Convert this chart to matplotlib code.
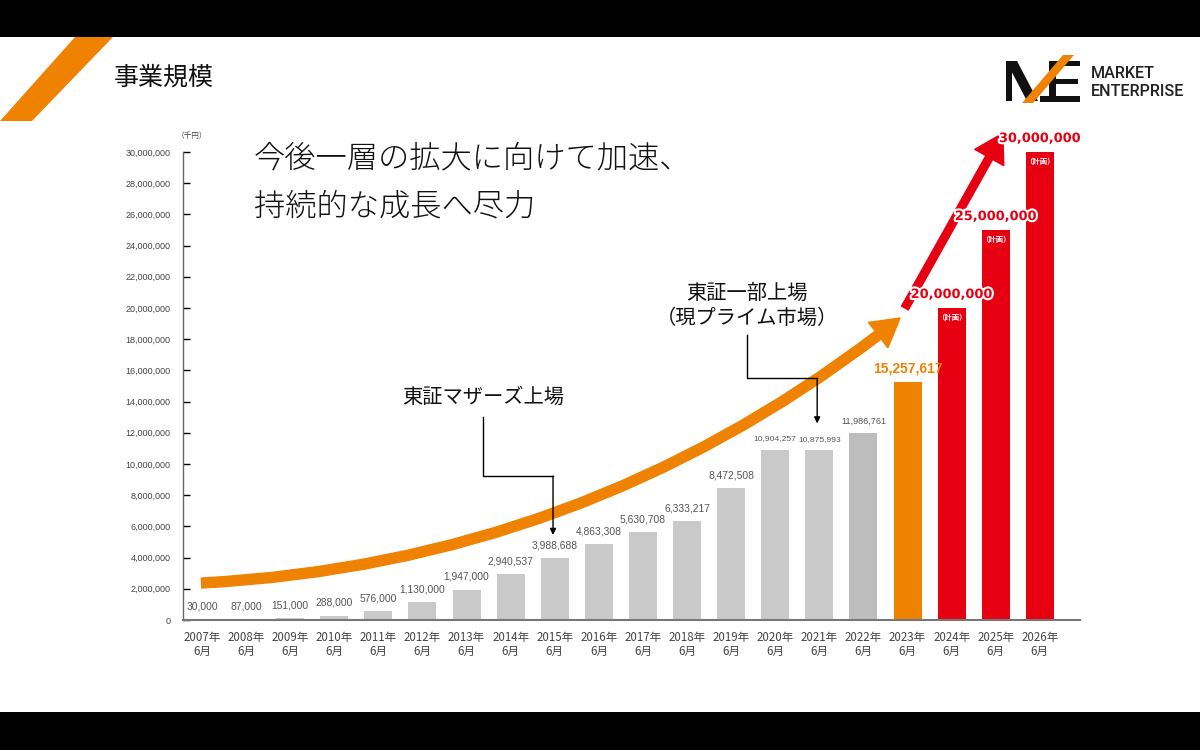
import matplotlib
matplotlib.use("Agg")
import matplotlib.pyplot as plt
import matplotlib.patheffects as pe
from matplotlib.patches import FancyArrowPatch, Polygon, Rectangle

plt.rcParams["font.family"] = ["Noto Sans CJK JP", "DejaVu Sans"]

# data (千円)
years = ["2007", "2008", "2009", "2010", "2011", "2012", "2013", "2014", "2015", "2016",
         "2017", "2018", "2019", "2020", "2021", "2022", "2023", "2024", "2025", "2026"]
sales = [30000, 87000, 151000, 288000, 576000, 1130000, 1947000, 2940537, 3988688, 4863308,
         5630708, 6333217, 8472508, 10904257, 10875993, 11986761, 15257617, 20000000, 25000000, 30000000]
kinds = ["actual"] * 15 + ["actual_last", "latest", "plan", "plan", "plan"]
tick_labels = [f"{y}年\n6月" for y in years]
y_ticks = list(range(0, 30000001, 2000000))

GREY = "#c9c9c9"
GREY_DARK = "#bdbdbd"
ORANGE = "#ef8200"
RED = "#e60012"
NUM_FONT = ["Liberation Sans Narrow", "Liberation Sans", "DejaVu Sans"]

W, H = 1200, 750


def px(x, y):
    # image pixel (y down) -> figure fraction
    return x / W, 1 - y / H


fig = plt.figure(figsize=(12, 7.5), dpi=100, facecolor="black")
fig.patches.append(Rectangle(px(0, 712), 1, 675 / H, transform=fig.transFigure,
                             facecolor="white", edgecolor="none", zorder=-5))

# header stripe
fig.patches.append(Polygon([px(75, 37), px(113, 37), px(32, 121), px(0, 121)], closed=True,
                           transform=fig.transFigure, facecolor=ORANGE, edgecolor="none", zorder=1))
fig.text(*px(114, 78), "事業規模", fontsize=18, va="center", ha="left", color="#111")

# logo
logo_black = [
    [(1006, 61), (1012, 61), (1012, 101), (1006, 101)],
    [(1006, 61), (1017, 61), (1038, 101), (1027, 101)],
    [(1049, 61), (1056, 61), (1056, 101), (1049, 101)],
    [(1049, 61), (1080, 61), (1080, 66), (1049, 66)],
    [(1049, 79), (1078, 79), (1078, 84), (1049, 84)],
    [(1040, 96), (1080, 96), (1080, 102), (1040, 102)],
]
for poly in logo_black:
    fig.patches.append(Polygon([px(*p) for p in poly], closed=True, transform=fig.transFigure,
                               facecolor="#111", edgecolor="none", zorder=2))
fig.patches.append(Polygon([px(1022, 103), px(1033, 103), px(1074, 55), px(1063, 55)], closed=True,
                           transform=fig.transFigure, facecolor=ORANGE, edgecolor="none", zorder=3))
fig.text(*px(1091, 73), "MARKET", fontsize=11.6, fontweight="medium", family=["Roboto", "DejaVu Sans"],
         va="center", ha="left", color="#222")
fig.text(*px(1091, 91), "ENTERPRISE", fontsize=11.6, fontweight="medium", family=["Roboto", "DejaVu Sans"],
         va="center", ha="left", color="#222")

# headline
fig.text(*px(254, 158), "今後一層の拡大に向けて加速、", fontsize=22.5, va="center", ha="left",
         color="#111", fontweight="light")
fig.text(*px(254, 207), "持続的な成長へ尽力", fontsize=22.5, va="center", ha="left",
         color="#111", fontweight="light")

ax = fig.add_axes([183 / W, 1 - 620 / H, 897 / W, 468 / H])
ax.set_facecolor("none")
x = list(range(len(years)))

colors = []
for k in kinds:
    colors.append({"actual": GREY, "actual_last": GREY_DARK, "latest": ORANGE, "plan": RED}[k])
ax.bar(x, sales, width=0.635, color=colors, zorder=2)

ax.set_xlim(-0.431, 19.91)
ax.set_ylim(0, 30000000)
ax.set_xticks(x)
ax.set_xticklabels(tick_labels, fontsize=8.3, color="#444", linespacing=1.05)
ax.tick_params(axis="x", length=0, pad=8)
ax.set_yticks(y_ticks)
ax.set_yticklabels([f"{v:,}" for v in y_ticks], fontsize=6.5, color="#444", family=NUM_FONT)
ax.tick_params(axis="y", direction="in", length=5, width=1, pad=9)
for i, t in enumerate(ax.yaxis.get_major_ticks()):
    t.tick1line.set_color("#555" if (len(y_ticks) - 1 - i) % 2 == 0 else "#bbb")
for s in ["top", "right"]:
    ax.spines[s].set_visible(False)
ax.spines["left"].set_color("#666")
ax.spines["left"].set_linewidth(1)
ax.spines["bottom"].set_color("#777")
ax.spines["bottom"].set_linewidth(1.5)
ax.text(-0.23, 31000000, "（千円）", fontsize=5.5, ha="center", va="center", color="#444", clip_on=False)

# value labels
for i, (v, k) in enumerate(zip(sales, kinds)):
    if k in ("actual", "actual_last"):
        fs = 6.1 if 13 <= i <= 14 else (6.6 if i == 15 else 7.4)
        ax.annotate(f"{v:,}", (i, v), xytext=(0, 5.5), textcoords="offset points", ha="center",
                    va="bottom", fontsize=fs, color="#555", family=NUM_FONT, zorder=4)
    elif k == "latest":
        ax.annotate(f"{v:,}", (i, v), xytext=(0, 5), textcoords="offset points", ha="center",
                    va="bottom", fontsize=10, fontweight="bold", color=ORANGE,
                    family=["Liberation Sans", "DejaVu Sans"], zorder=4)
    else:
        ax.annotate(f"{v:,}", (i, v), xytext=(0, 5), textcoords="offset points", ha="center",
                    va="bottom", fontsize=9.3, fontweight="bold", color=RED,
                    family=["DejaVu Sans"], zorder=6,
                    path_effects=[pe.withStroke(linewidth=3, foreground="white")])
        ax.annotate("（計画）", (i, v), xytext=(0, -6.5), textcoords="offset points", ha="center",
                    va="center", fontsize=5.3, fontweight="bold", color="white", zorder=4)

# growth arrows
orange_arrow = FancyArrowPatch((-0.01, 2370000), (15.83, 19360000), connectionstyle="arc3,rad=0.16",
                               arrowstyle="simple,head_length=1.0,head_width=1.15,tail_width=0.36",
                               mutation_scale=20, color=ORANGE, shrinkA=0, shrinkB=0,
                               zorder=3, clip_on=False)
ax.add_patch(orange_arrow)
red_arrow = FancyArrowPatch((15.94, 20000000), (18.16, 31200000),
                            arrowstyle="simple,head_length=1.0,head_width=1.2,tail_width=0.28",
                            mutation_scale=20, color=RED, shrinkA=0, shrinkB=0,
                            zorder=3, clip_on=False)
ax.add_patch(red_arrow)

# listing callouts
ax.text(6.37, 14250000, "東証マザーズ上場", fontsize=14.6, ha="center", va="center", color="#111")
ax.plot([6.37, 6.37, 7.96], [13000000, 9230000, 9230000], color="black", lw=1, zorder=5)
ax.annotate("", xy=(7.96, 5450000), xytext=(7.96, 9230000),
            arrowprops=dict(arrowstyle="-|>", color="black", lw=1, shrinkA=0, shrinkB=0,
                            mutation_scale=9), zorder=5)

ax.text(12.36, 20950000, "東証一部上場", fontsize=14.6, ha="center", va="center", color="#111")
ax.text(12.36, 19350000, "（現プライム市場）", fontsize=14.6, ha="center", va="center", color="#111")
ax.plot([12.36, 12.36, 13.95], [18270000, 15500000, 15500000], color="black", lw=1, zorder=5)
ax.annotate("", xy=(13.95, 12600000), xytext=(13.95, 15500000),
            arrowprops=dict(arrowstyle="-|>", color="black", lw=1, shrinkA=0, shrinkB=0,
                            mutation_scale=9), zorder=5)

fig.savefig("out.png", dpi=100, facecolor=fig.get_facecolor())
